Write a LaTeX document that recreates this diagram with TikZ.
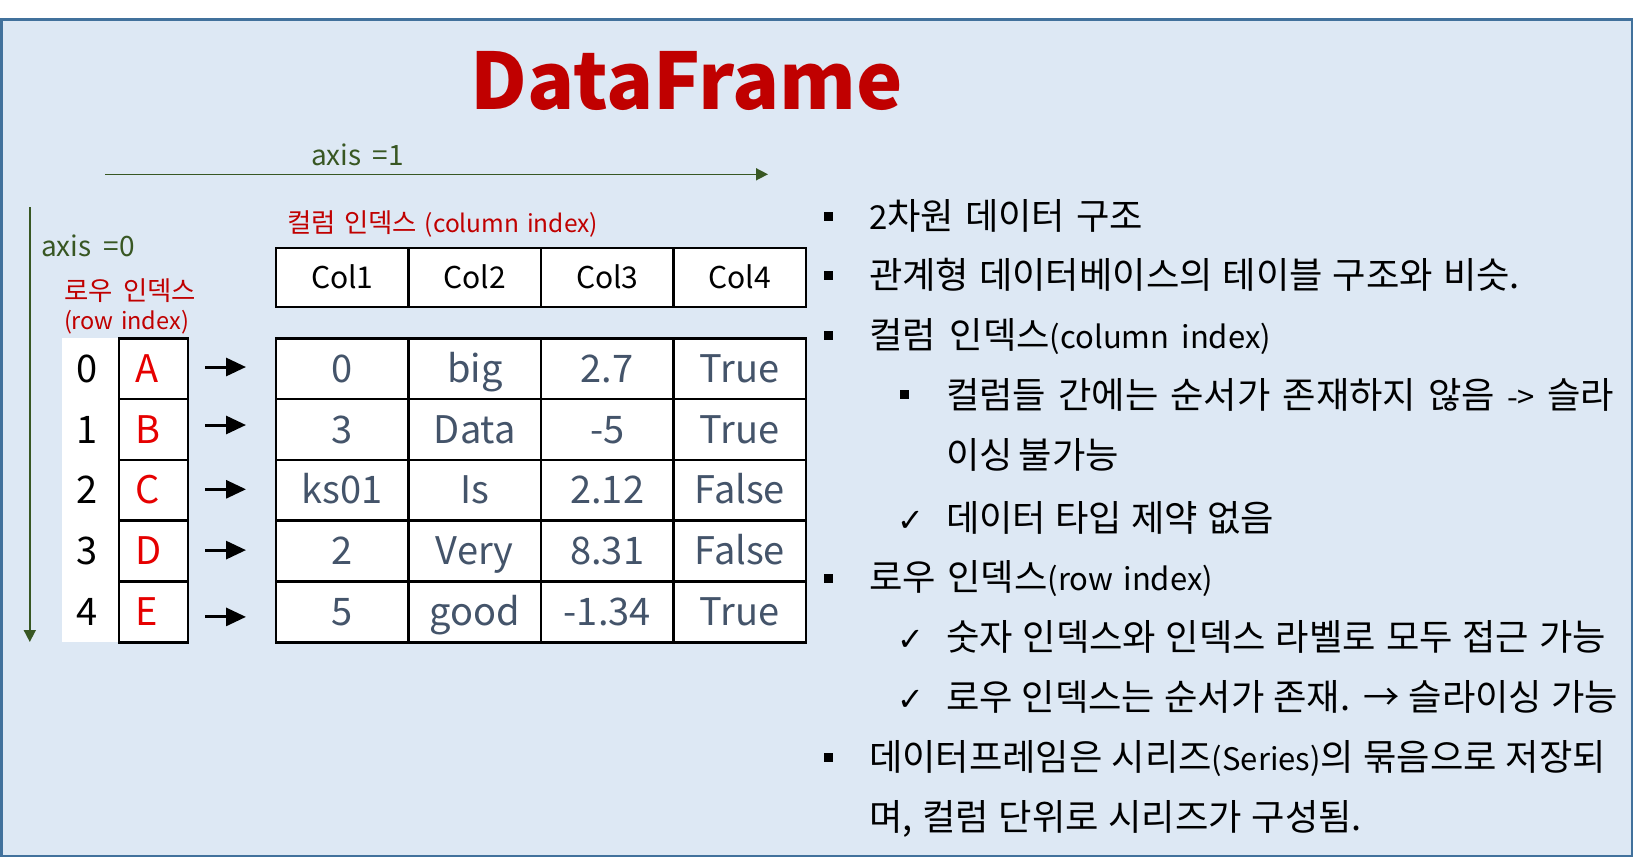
\documentclass[tikz,border=0pt]{standalone}
\usepackage{fontspec}
\setmainfont{Noto Sans CJK KR}
% Hangul is set a little larger than the Latin letters
\newfontfamily\kr{Noto Sans CJK KR}[Scale=1.1]
\newfontfamily\lt{Noto Sans CJK KR}
\newfontfamily\symfont{DejaVu Sans}
\usetikzlibrary{arrows.meta}

\definecolor{panelfill}{HTML}{DDE8F4}
\definecolor{panelline}{HTML}{41719C}
\definecolor{titlered}{HTML}{C00000}
\definecolor{axisgreen}{HTML}{385723}
\definecolor{celltext}{HTML}{44546A}
\definecolor{letterred}{HTML}{E60000}

\newcommand{\fsz}[1]{\fontsize{#1}{#1}\selectfont}
% Latin words inside the Korean bullet lines
\newcommand{\lat}[1]{{\lt\fsz{31}#1}}
% stretch the spaces of a line so that it spans a given width
\newcommand{\spread}[2]{\makebox[#1][s]{#2}}

\begin{document}
\begin{tikzpicture}[x=1pt,y=-1pt,
  lbl/.style={inner sep=0pt, outer sep=0pt},
  tcell/.style={draw=black, line width=2.5pt, fill=white, outer sep=0pt,
    minimum width=132.5pt, minimum height=60.8pt, inner sep=0pt,
    text height=27pt, text depth=0pt, text=celltext, font=\fsz{38}},
  hcell/.style={draw=black, line width=2.5pt, fill=white, outer sep=0pt,
    minimum width=132.5pt, minimum height=59pt, inner sep=0pt,
    text height=21pt, text depth=0pt, font=\fsz{30}},
  lbox/.style={draw=black, line width=2.5pt, fill=white, outer sep=0pt,
    minimum height=60.8pt, inner xsep=16pt, inner ysep=0pt, text width=37pt, align=left,
    text height=27pt, text depth=0pt, text=letterred, font=\fsz{38}},
  idxnum/.style={inner sep=0pt, outer sep=0pt, text height=27pt, text depth=0pt, font=\fsz{38}},
  rowarrow/.style={line width=3pt, -{Triangle[length=20pt,width=18pt]}},
  axisarrow/.style={draw=axisgreen, line width=1.6pt, -{Triangle[length=12pt,width=12pt]}},
  sqb/.style={fill=black, minimum size=9pt, inner sep=0pt, outer sep=0pt},
  chk/.style={inner sep=0pt, outer sep=0pt, anchor=base west, font=\symfont\fsz{32}},
  bodytext/.style={inner sep=0pt, outer sep=0pt, anchor=base west, font=\kr\fsz{33}},
  redlabel/.style={inner sep=0pt, outer sep=0pt, anchor=base west, text=titlered, font=\fsz{24.5}},
  axislabel/.style={inner sep=0pt, outer sep=0pt, anchor=base west, text=axisgreen, font=\fsz{28}},
]
\useasboundingbox (0,0) rectangle (1640,857);

% panel
\draw[panelline, line width=2.5pt, fill=panelfill] (1.25,19.25) rectangle (1632,855.75);

% title
\node[lbl, anchor=base, text=titlered, font=\fsz{78}\bfseries] (title) at (687,109) {DataFrame};

% axis arrows
\coordinate (ax1s) at (105,174.3);
\coordinate (ax1e) at (768,174.3);
\draw[axisarrow] (ax1s) -- (ax1e);
\node[axislabel] (ax1lbl) at (311,165) {\spread{93pt}{axis =1}};
\coordinate (ax0s) at (29.8,207);
\coordinate (ax0e) at (29.8,642);
\draw[axisarrow] (ax0s) -- (ax0e);
\node[axislabel] (ax0lbl) at (41,256) {\spread{94pt}{axis =0}};

% index labels
\node[redlabel] (collbl) at (287,232) {\spread{311pt}{{\kr\fsz{24}컬럼 인덱스} (column index)}};
\node[redlabel] (rowlbl1) at (64,300) {\spread{132pt}{\kr\fsz{24}로우 인덱스}};
\node[redlabel, font=\fsz{23.5}] (rowlbl2) at (64,329) {\spread{125pt}{(row index)}};

% header row
\foreach \c/\t in {0/Col1,1/Col2,2/Col3,3/Col4}
  \node[hcell] (h\c) at ({342.25+\c*132.5},277.5) {\t};

% row position numbers on white strip
\node[fill=white, minimum width=57pt, minimum height=303.9pt, inner sep=0pt, outer sep=0pt, anchor=north west] (idxbg) at (62,338.3) {};

% data rows
\foreach \r/\L/\a/\b/\cc/\d/\dy in {0/A/0/big/2.7/True/1.7, 1/B/3/Data/-5/True/4.5,
    2/C/ks01/Is/2.12/False/1, 3/D/2/Very/8.31/False/1, 4/E/5/good/-1.34/True/-5} {
  \node[idxnum] (n\r) at (87,{368.7+\r*60.8}) {\r};
  \node[lbox] (L\r) at (153.5,{368.7+\r*60.8}) {\L};
  \node[tcell] (d\r-0) at (342.25,{368.7+\r*60.8}) {\a};
  \node[tcell] (d\r-1) at (474.75,{368.7+\r*60.8}) {\b};
  \node[tcell] (d\r-2) at (607.25,{368.7+\r*60.8}) {\cc};
  \node[tcell] (d\r-3) at (739.75,{368.7+\r*60.8}) {\d};
  \draw[rowarrow] ([xshift=17pt,yshift=\dy pt]L\r.east) -- ([xshift=-30pt,yshift=\dy pt]d\r-0.west);
}

% bullet list
\node[sqb] (b1) at (828.5,216) {};
\node[bodytext] (l1) at (869,229) {\spread{274pt}{{\lt\fsz{33}2}차원 데이터 구조}};
\node[sqb] (b2) at (828.5,275) {};
\node[bodytext] (l2) at (869,288) {\spread{651pt}{관계형 데이터베이스의 테이블 구조와 비슷.}};
\node[sqb] (b3) at (828.5,335) {};
\node[bodytext] (l3) at (869,348) {\spread{402pt}{컬럼 인덱스\lat{(column index)}}};
\node[sqb] (b4) at (904.5,394) {};
\node[bodytext] (l4) at (946,408) {\spread{668pt}{컬럼들 간에는 순서가 존재하지 않음 \lat{->} 슬라}};
\node[bodytext] (l5) at (946,468) {\spread{173pt}{이싱 불가능}};
\node[chk] (c6) at (897,531) {✓};
\node[bodytext] (l6) at (946,531) {\spread{328pt}{데이터 타입 제약 없음}};
\node[sqb] (b7) at (828.5,578) {};
\node[bodytext] (l7) at (869,590) {\spread{344pt}{로우 인덱스\lat{(row index)}}};
\node[chk] (c8) at (897,650) {✓};
\node[bodytext] (l8) at (946,650) {\spread{660pt}{숫자 인덱스와 인덱스 라벨로 모두 접근 가능}};
\node[chk] (c9) at (897,710) {✓};
\node[bodytext] (l9) at (946,710) {\spread{672pt}{로우 인덱스는 순서가 존재. → 슬라이싱 가능}};
\node[sqb] (b10) at (828.5,757) {};
\node[bodytext] (l10) at (869,770) {\spread{737pt}{데이터프레임은 시리즈\lat{(Series)}의 묶음으로 저장되}};
\node[bodytext] (l11) at (869,830) {\spread{493pt}{며, 컬럼 단위로 시리즈가 구성됨.}};
\end{tikzpicture}
\end{document}
